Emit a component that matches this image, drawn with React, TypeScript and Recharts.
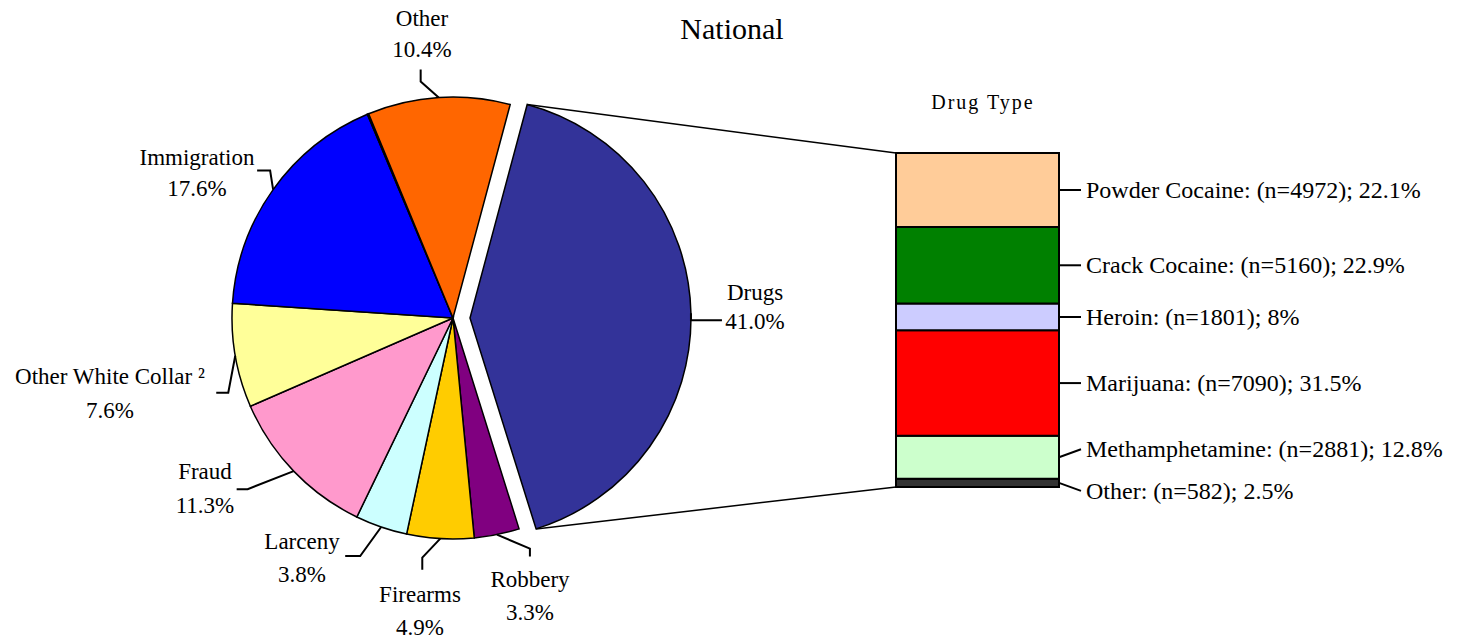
import { PieChart, Pie, Cell, BarChart, Bar, XAxis, YAxis } from 'recharts';

// offense mix (percent of cases)
const offenses = ['Drugs', 'Robbery', 'Firearms', 'Larceny', 'Fraud', 'Other White Collar ²', 'Immigration', 'Unspecified', 'Other'];
const offenseShares = [41.0, 3.3, 4.9, 3.8, 11.3, 7.6, 17.6, 0.1, 10.4];
const offenseColors = ['#333399', '#800080', '#FFCC00', '#CCFFFF', '#FF99CC', '#FFFF99', '#0000FF', '#808080', '#FF6600'];

// drug type breakdown, listed top to bottom as in the bar
const drugTypes = ['Powder Cocaine', 'Crack Cocaine', 'Heroin', 'Marijuana', 'Methamphetamine', 'Other'];
const drugCounts = [4972, 5160, 1801, 7090, 2881, 582];
const drugShares = [22.1, 22.9, 8, 31.5, 12.8, 2.5];
const drugColors = ['#FFCC99', '#008000', '#CCCCFF', '#FF0000', '#CCFFCC', '#333333'];

const W = 1473;
const H = 638;
const PIE_CX = 453;
const PIE_CY = 318;
const PIE_R = 221;
const EXPLODE = 17;
const BAR_LEFT = 896;
const BAR_RIGHT = 1059;
const BAR_TOP = 153;
const BAR_BOTTOM = 487;
const FONT = "'Liberation Serif', 'Times New Roman', serif";
const RAD = Math.PI / 180;

const pieData = offenses.map((name, i) => ({ name, value: offenseShares[i] }));
const barRow: Record<string, number | string> = { cat: 'drugs' };
drugTypes.forEach((d, i) => { barRow[d] = drugShares[i]; });

// label placement: text centre relative to pie centre, leader bends relative to slice edge
const labelLayout: Record<number, { text: [number, number]; leader: [number, number][]; gap: number }> = {
  0: { text: [285, -26], leader: [[0, 7], [31, 7]], gap: 29 },
  1: { text: [77, 261], leader: [[33, 14], [33, 22]], gap: 33 },
  2: { text: [-33, 276], leader: [[-18, 19], [-18, 31]], gap: 33 },
  3: { text: [-151, 223], leader: [[-21, 29], [-36, 29]], gap: 33 },
  4: { text: [-248, 153], leader: [[-46, 18], [-57, 18]], gap: 34 },
  5: { text: [-343, 58], leader: [[-7, 37], [-19, 37]], gap: 34 },
  6: { text: [-256, -161], leader: [[-3, -19], [-16, -19]], gap: 31 },
  8: { text: [-31, -300], leader: [[-18, -16], [-18, -28]], gap: 31 },
};

const drugLabelShift = [0, 0, 0, 0, -8, 8];

function renderOffenseLabel(props: any, only: (i: number) => boolean) {
  const { cx, cy, midAngle, outerRadius, index, startAngle, endAngle } = props;
  if (!only(index)) return null;
  const lay = labelLayout[index];
  if (!lay) return null;
  const ex = cx + outerRadius * Math.cos(-midAngle * RAD);
  const ey = cy + outerRadius * Math.sin(-midAngle * RAD);
  const pts = [[ex, ey], ...lay.leader.map(([dx, dy]) => [ex + dx, ey + dy])];
  const tx = cx + lay.text[0];
  const ty = cy + lay.text[1];
  const connectors = [];
  if (index === 0 && startAngle !== undefined) {
    const sx = cx + outerRadius * Math.cos(-startAngle * RAD);
    const sy = cy + outerRadius * Math.sin(-startAngle * RAD);
    const fx = cx + outerRadius * Math.cos(-endAngle * RAD);
    const fy = cy + outerRadius * Math.sin(-endAngle * RAD);
    connectors.push(<line key="c1" x1={sx} y1={sy} x2={BAR_LEFT} y2={BAR_TOP} stroke="#000" strokeWidth={1.5} />);
    connectors.push(<line key="c2" x1={fx} y1={fy} x2={BAR_LEFT} y2={BAR_BOTTOM} stroke="#000" strokeWidth={1.5} />);
  }
  return (
    <g key={`lab-${index}`}>
      {connectors}
      <polyline points={pts.map((p) => p.join(',')).join(' ')} fill="none" stroke="#000" strokeWidth={2} />
      <text x={tx} y={ty} textAnchor="middle" dominantBaseline="central" fontFamily={FONT} fontSize={23} fill="#000">
        {offenses[index]}
      </text>
      <text x={tx} y={ty + lay.gap} textAnchor="middle" dominantBaseline="central" fontFamily={FONT} fontSize={23} fill="#000">
        {offenseShares[index].toFixed(1)}%
      </text>
    </g>
  );
}

function renderDrugLabel(props: any, i: number) {
  const { x, y, width, height } = props;
  const x0 = x + width;
  const y0 = y + height / 2;
  const y1 = y0 + drugLabelShift[i];
  const share = Number.isInteger(drugShares[i]) ? `${drugShares[i]}` : drugShares[i].toFixed(1);
  return (
    <g key={`dl-${i}`}>
      <line x1={x0} y1={y0} x2={x0 + 22} y2={y1} stroke="#000" strokeWidth={2} />
      <text x={x0 + 27} y={y1} dominantBaseline="central" fontFamily={FONT} fontSize={24} fill="#000">
        {`${drugTypes[i]}: (n=${drugCounts[i]}); ${share}%`}
      </text>
    </g>
  );
}

export default function App() {
  const stackOrder = drugTypes.map((_, i) => i).reverse();
  return (
    <div style={{ position: 'absolute', left: 0, top: 0, width: W, height: H, background: '#fff' }}>
      <div style={{ position: 'absolute', left: 0, top: 0 }}>
        <PieChart width={W} height={H} margin={{ top: 0, right: 0, bottom: 0, left: 0 }}>
          <text x={732} y={28} textAnchor="middle" dominantBaseline="central" fontFamily={FONT} fontSize={30} fill="#000">
            National
          </text>
          <text x={983} y={102} textAnchor="middle" dominantBaseline="central" fontFamily={FONT} fontSize={20} letterSpacing={2} fill="#000">
            Drug Type
          </text>
          <Pie
            data={pieData}
            dataKey="value"
            nameKey="name"
            cx={PIE_CX}
            cy={PIE_CY}
            outerRadius={PIE_R}
            startAngle={75}
            endAngle={-285}
            isAnimationActive={false}
            labelLine={false}
            label={(p: any) => renderOffenseLabel(p, (i) => i !== 0)}
          >
            {pieData.map((d, i) => (
              <Cell
                key={d.name}
                fill={i === 0 ? 'none' : offenseColors[i]}
                stroke={i === 0 ? 'none' : '#000'}
                strokeWidth={1.5}
              />
            ))}
          </Pie>
          <Pie
            data={pieData}
            dataKey="value"
            nameKey="name"
            cx={PIE_CX + EXPLODE}
            cy={PIE_CY}
            outerRadius={PIE_R}
            startAngle={75}
            endAngle={-285}
            isAnimationActive={false}
            labelLine={false}
            label={(p: any) => renderOffenseLabel(p, (i) => i === 0)}
          >
            {pieData.map((d, i) => (
              <Cell
                key={d.name}
                fill={i === 0 ? offenseColors[0] : 'none'}
                stroke={i === 0 ? '#000' : 'none'}
                strokeWidth={1.5}
              />
            ))}
          </Pie>
        </PieChart>
      </div>
      <div style={{ position: 'absolute', left: 0, top: 0 }}>
        <BarChart
          width={W}
          height={H}
          data={[barRow]}
          barCategoryGap={0}
          margin={{ top: BAR_TOP, bottom: H - BAR_BOTTOM, left: BAR_LEFT, right: W - BAR_RIGHT }}
        >
          <XAxis dataKey="cat" hide />
          <YAxis hide domain={[0, 'dataMax']} />
          {stackOrder.map((i) => (
            <Bar
              key={drugTypes[i]}
              dataKey={drugTypes[i]}
              stackId="drugs"
              fill={drugColors[i]}
              stroke="#000"
              strokeWidth={2}
              isAnimationActive={false}
              label={(p: any) => renderDrugLabel(p, i)}
            />
          ))}
        </BarChart>
      </div>
    </div>
  );
}
